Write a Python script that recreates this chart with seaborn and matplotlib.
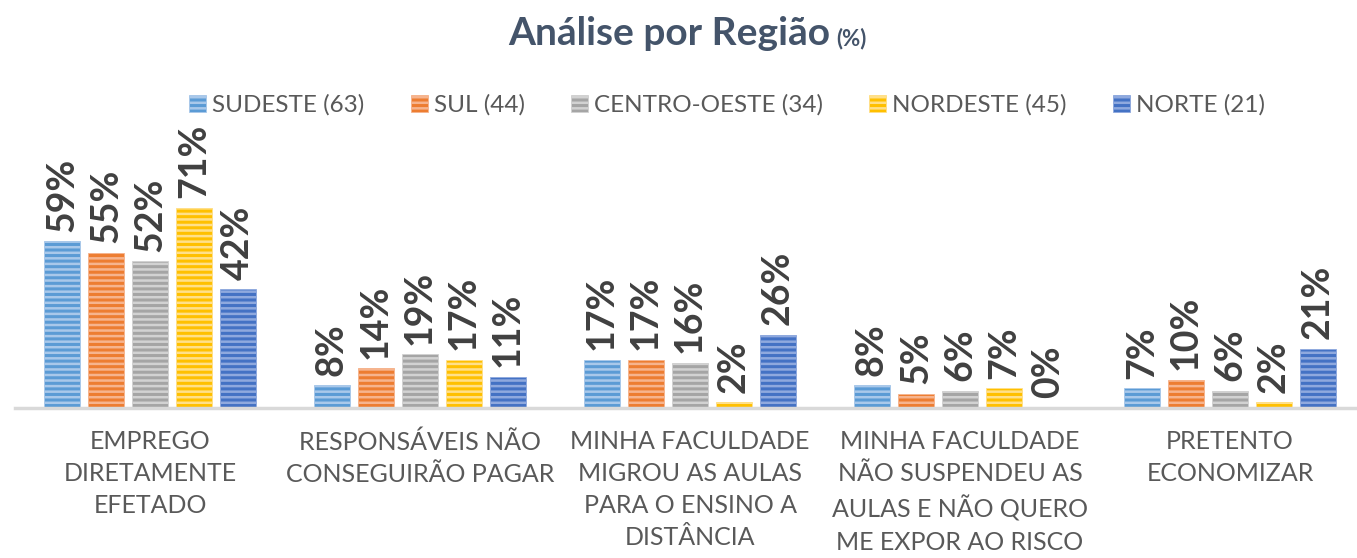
import pandas as pd
import matplotlib
matplotlib.use('Agg')
import matplotlib.pyplot as plt
import seaborn as sns
from matplotlib.patches import Patch

# Data
categories = ['EMPREGO\nDIRETAMENTE\nEFETADO',
              'RESPONSÁVEIS NÃO\nCONSEGUIRÃO PAGAR',
              'MINHA FACULDADE\nMIGROU AS AULAS\nPARA O ENSINO A\nDISTÂNCIA',
              'MINHA FACULDADE\nNÃO SUSPENDEU AS\nAULAS E NÃO QUERO\nME EXPOR AO RISCO',
              'PRETENTO\nECONOMIZAR']
regions = ['SUDESTE (63)', 'SUL (44)', 'CENTRO-OESTE (34)', 'NORDESTE (45)', 'NORTE (21)']
sudeste = [59, 8, 17, 8, 7]
sul = [55, 14, 17, 5, 10]
centro_oeste = [52, 19, 16, 6, 6]
nordeste = [71, 17, 2, 7, 2]
norte = [42, 11, 26, 0, 21]

colors = ['#5B9BD5', '#ED7D31', '#A5A5A5', '#FFC000', '#4472C4']
stripe = ['#A9C8EA', '#F6B48E', '#D2D2D2', '#FFE08A', '#8FA9DE']

rows = []
for reg, vals in zip(regions, [sudeste, sul, centro_oeste, nordeste, norte]):
    for cat, v in zip(categories, vals):
        rows.append({'cat': cat, 'regiao': reg, 'valor': v})
df = pd.DataFrame(rows)

sns.set_style('white')
plt.rcParams['font.family'] = ['Lato', 'DejaVu Sans']
plt.rcParams['hatch.linewidth'] = 1.8

fig = plt.figure(figsize=(13.57, 5.58), dpi=100)
ax = fig.add_axes([15 / 1357, 150 / 558, 1350 / 1357, 230 / 558])

sns.barplot(data=df, x='cat', y='valor', hue='regiao', palette=colors,
            width=0.815, gap=0.18, ax=ax, legend=False)

for cont, c, s in zip(ax.containers, colors, stripe):
    for p in cont:
        p.set_facecolor(c)
        p.set_edgecolor(s)
        p.set_hatch('---')
        p.set_linewidth(0.6)
    ax.bar_label(cont, labels=[f'{int(v)}%' for v in cont.datavalues],
                 rotation=90, padding=7, fontsize=27, fontweight='bold',
                 color='#404040')

ax.set_ylim(0, 81.5)
ax.set_xlim(-0.5, 4.5)
ax.set_xlabel('')
ax.set_ylabel('')
ax.set_yticks([])
ax.tick_params(axis='x', length=0, pad=16, labelsize=18, labelcolor='#595959')
for lbl in ax.get_xticklabels():
    lbl.set_linespacing(1.47)
for sp in ['top', 'left', 'right']:
    ax.spines[sp].set_visible(False)
ax.spines['bottom'].set_color('#D9D9D9')
ax.spines['bottom'].set_linewidth(2.5)

# Legend
handles = [Patch(facecolor=c, edgecolor=s, hatch='---', linewidth=0.6)
           for c, s in zip(colors, stripe)]
fig.legend(handles, regions, loc='center', bbox_to_anchor=(727 / 1357, 1 - 105 / 558),
           ncol=5, frameon=False, fontsize=17.5, labelcolor='#595959',
           handlelength=0.7, handleheight=0.7, handletextpad=0.25,
           columnspacing=1.9)

# Title
fig.text(830 / 1357, 1 - 45 / 558, 'Análise por Região', ha='right', va='baseline',
         fontsize=28, fontweight='bold', color='#44546A')
fig.text(836 / 1357, 1 - 45 / 558, '(%)', ha='left', va='baseline',
         fontsize=16, fontweight='bold', color='#44546A')

fig.savefig('out.png', dpi=100)
